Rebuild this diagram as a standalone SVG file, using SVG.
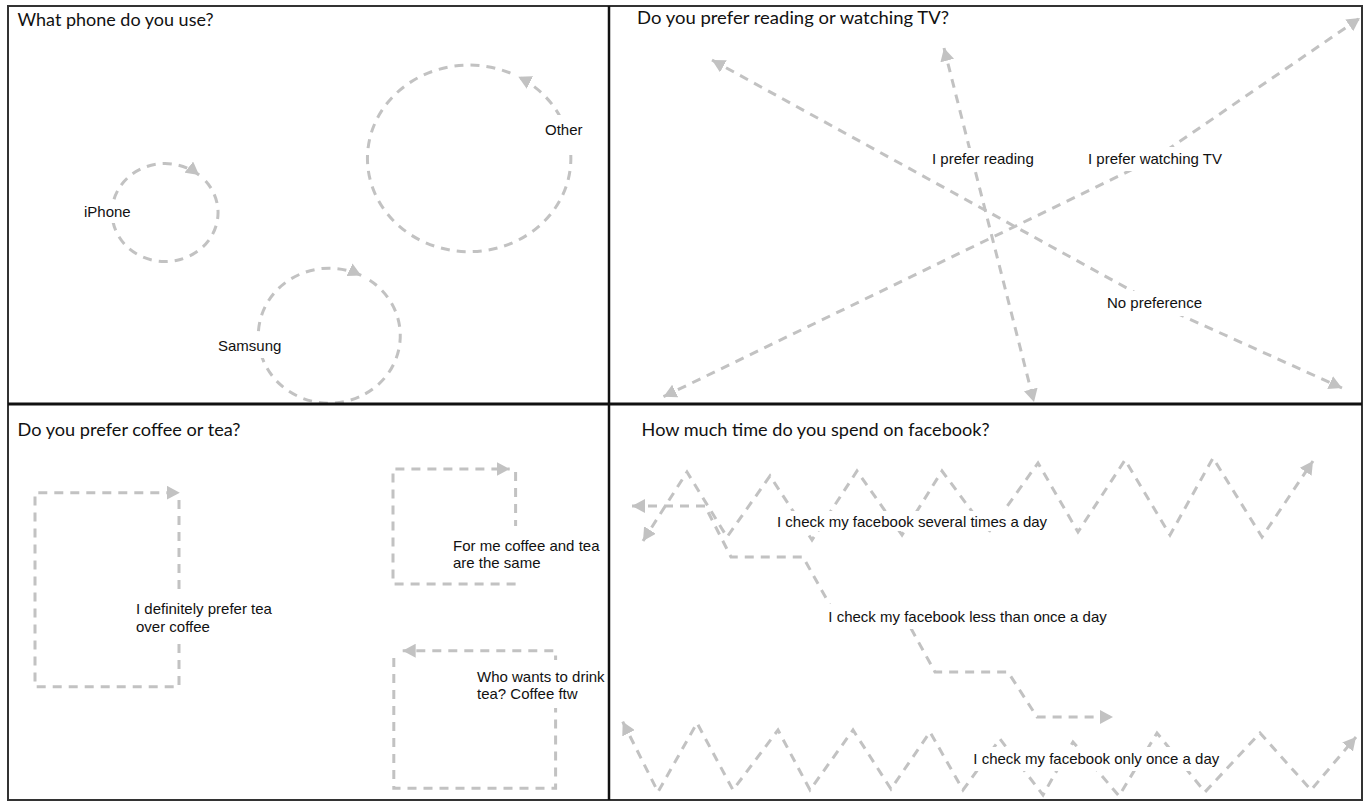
<svg xmlns="http://www.w3.org/2000/svg" width="1367" height="802" viewBox="0 0 1367 802">
<style>
.bg{fill:#ffffff}
.c{fill:none;stroke:#c2c2c2;stroke-width:3;stroke-dasharray:9 7}
.t{font-family:"Liberation Sans",Arial,sans-serif;font-size:15px;fill:#111}
.h{font-family:Lato,"Liberation Sans",sans-serif;font-size:18.2px;fill:#111}
.lb{fill:#ffffff}
.fr{fill:none;stroke:#333;stroke-width:2}
</style>
<defs>
<marker id="ah" markerUnits="userSpaceOnUse" markerWidth="14" markerHeight="14" refX="13" refY="7" orient="auto-start-reverse" viewBox="0 0 14 14">
<path d="M0,0 L13,7 L0,14 Z" fill="#c2c2c2"/>
</marker>
</defs>
<rect class="bg" x="0" y="0" width="1367" height="802"/>

<g id="connectors">
<path class="c" d="M205.6,181 A53,49 0 1 1 199.1,175" marker-end="url(#ah)"/>
<path class="c" d="M510.4,73.1 A101.7,93.3 0 1 0 518.3,76.7" marker-end="url(#ah)"/>
<path class="c" d="M369.7,280.2 A71,67.5 0 1 1 361.2,275.4" marker-end="url(#ah)"/>

<path class="c" d="M712,60 L1154,303 L1342,388" marker-start="url(#ah)" marker-end="url(#ah)"/>
<path class="c" d="M944,48 L1034,402" marker-start="url(#ah)" marker-end="url(#ah)"/>
<path class="c" d="M663.5,396.7 L1154,159 L1360,18" marker-start="url(#ah)" marker-end="url(#ah)"/>

<path class="c" d="M179,500 V686.7 H35 V492.7 H179.8" marker-end="url(#ah)"/>
<path class="c" d="M515.6,472 V584 H393 V469 H509.7" marker-end="url(#ah)"/>
<path class="c" d="M393.8,658 V788.3 H555.6 V650.7 H402.7" marker-end="url(#ah)"/>

<path class="c" d="M632,506 H705 L731,557 H803 L835,614 H903 L935,672 H1008 L1037,717 H1113" marker-start="url(#ah)" marker-end="url(#ah)"/>
<path class="c" d="M643,541 L687,472 L727,537 L770,476 L812,540 L857,471 L902,535 L942,471 L988,533 L1038,463 L1078,532 L1125,460 L1170,535 L1213,458 L1262,537 L1313,461" marker-start="url(#ah)" marker-end="url(#ah)"/>
<path class="c" d="M622.7,721.7 L658,792 L697,723 L733,790 L778,730 L810,790 L853,730 L891,789 L930,732 L963,790 L1000,739 L1043,795 L1073,742 L1119,796 L1157,733 L1205,792 L1260,733 L1311,790 L1356,737" marker-start="url(#ah)" marker-end="url(#ah)"/>
</g>

<g id="q1-title"><text class="h" x="17.5" y="25.5" textLength="196" lengthAdjust="spacingAndGlyphs">What phone do you use?</text></g>
<g id="node-iphone"><rect class="lb" x="81" y="201" width="53" height="22"/><text class="t" x="84" y="217">iPhone</text></g>
<g id="node-other"><rect class="lb" x="542" y="115" width="44" height="34"/><text class="t" x="545" y="135">Other</text></g>
<g id="node-samsung"><rect class="lb" x="215" y="334" width="70" height="24"/><text class="t" x="218" y="351">Samsung</text></g>

<g id="q2-title"><text class="h" x="637" y="24" textLength="312" lengthAdjust="spacingAndGlyphs">Do you prefer reading or watching TV?</text></g>
<g id="node-reading"><rect class="lb" x="929" y="148" width="108" height="23"/><text class="t" x="932" y="164">I prefer reading</text></g>
<g id="node-tv"><rect class="lb" x="1085" y="147" width="139" height="24"/><text class="t" x="1088" y="164">I prefer watching TV</text></g>
<g id="node-nopref"><rect class="lb" x="1104" y="291" width="100" height="25"/><text class="t" x="1107" y="308">No preference</text></g>

<g id="q3-title"><text class="h" x="17.5" y="436" textLength="223" lengthAdjust="spacingAndGlyphs">Do you prefer coffee or tea?</text></g>
<g id="node-tea"><rect class="lb" x="133" y="592" width="143" height="48"/><text class="t" x="136" y="614.3">I definitely prefer tea</text><text class="t" x="136" y="631.7">over coffee</text></g>
<g id="node-same"><rect class="lb" x="450" y="526" width="152" height="52"/><text class="t" x="453" y="550.7">For me coffee and tea</text><text class="t" x="453" y="567.7">are the same</text></g>
<g id="node-coffee"><rect class="lb" x="474" y="660" width="134" height="48"/><text class="t" x="477" y="681.7">Who wants to drink</text><text class="t" x="477" y="699">tea? Coffee ftw</text></g>

<g id="q4-title"><text class="h" x="641.6" y="435.5" textLength="348" lengthAdjust="spacingAndGlyphs">How much time do you spend on facebook?</text></g>
<g id="node-several"><rect class="lb" x="774" y="511" width="277" height="20"/><text class="t" x="777" y="526.7">I check my facebook several times a day</text></g>
<g id="node-less"><rect class="lb" x="825" y="604" width="287" height="25"/><text class="t" x="828.3" y="621.7">I check my facebook less than once a day</text></g>
<g id="node-once"><rect class="lb" x="970" y="747" width="255" height="24"/><text class="t" x="973.3" y="764">I check my facebook only once a day</text></g>

<g id="frame">
<rect class="fr" x="8" y="6" width="1354" height="794"/>
<line x1="609" y1="6" x2="609" y2="800" stroke="#111" stroke-width="2.5"/>
<line x1="8" y1="404" x2="1362" y2="404" stroke="#111" stroke-width="3"/>
</g>
</svg>
